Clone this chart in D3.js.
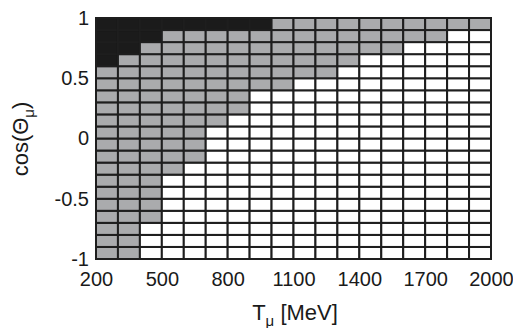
<!DOCTYPE html>
<html><head><meta charset="utf-8">
<script src="https://cdn.jsdelivr.net/npm/d3@7"></script>
<style>body{margin:0;background:#fff}svg{display:block}text{font-family:"Liberation Sans",Arial,sans-serif;fill:#1a1a1a}</style>
</head><body><svg id="c" width="513" height="328"></svg>
<script>
// Lower edges of energy bins (MeV), width 100
const energyBins = [200,300,400,500,600,700,800,900,1000,1100,1200,1300,1400,1500,1600,1700,1800,1900];
// Lower edges of cos bins, width 0.1
const cosBins = [-1,-0.9,-0.8,-0.7,-0.6,-0.5,-0.4,-0.3,-0.2,-0.1,0,0.1,0.2,0.3,0.4,0.5,0.6,0.7,0.8,0.9];
// For each energy bin: lowest cos edge of the grey region and of the black region
const greyLower  = [-1,-1,-0.7,-0.3,-0.2,0.1,0.2,0.4,0.4,0.5,0.5,0.6,0.7,0.7,0.8,0.8,0.9,0.9];
const blackLower = [0.6,0.7,0.8,0.9,0.9,0.9,0.9,0.9,1,1,1,1,1,1,1,1,1,1];
const xTicks = [200,500,800,1100,1400,1700,2000];
const yTicks = [1,0.5,0,-0.5,-1];

const svg = d3.select("#c");
const x = d3.scaleLinear().domain([200,2000]).range([96,491]);
const y = d3.scaleLinear().domain([-1,1]).range([259,18]);

const cells = [];
energyBins.forEach((e,i)=>{
  cosBins.forEach(c=>{
    let fill = "#ffffff";
    if (c >= blackLower[i]-1e-9) fill = "#1b1b1b";
    else if (c >= greyLower[i]-1e-9) fill = "#aaabad";
    cells.push({e, c, fill});
  });
});

svg.append("g").selectAll("rect").data(cells).join("rect")
  .attr("x", d=>x(d.e)).attr("y", d=>y(d.c+0.1))
  .attr("width", d=>x(d.e+100)-x(d.e)).attr("height", d=>y(d.c)-y(d.c+0.1))
  .attr("fill", d=>d.fill)
  .attr("stroke", "#1e1e1e").attr("stroke-width", 2);

svg.append("rect").attr("x",96).attr("y",18).attr("width",395).attr("height",241)
  .attr("fill","none").attr("stroke","#1e1e1e").attr("stroke-width",2);

// Axes
const xAxis = svg.append("g").attr("transform","translate(0,259)")
  .call(d3.axisBottom(x).tickValues(xTicks).tickSize(0).tickPadding(13).tickFormat(d3.format("d")));
xAxis.select(".domain").remove();
xAxis.selectAll("text").attr("font-size",20).attr("font-family","Liberation Sans, Arial, sans-serif").attr("fill","#1a1a1a");

const yAxis = svg.append("g").attr("transform","translate(96,0)")
  .call(d3.axisLeft(y).tickValues(yTicks).tickSize(0).tickPadding(7).tickFormat(d=>String(d)));
yAxis.select(".domain").remove();
yAxis.selectAll("text").attr("font-size",20).attr("font-family","Liberation Sans, Arial, sans-serif").attr("fill","#1a1a1a");

// Axis titles
const xt = svg.append("text").attr("x",295).attr("y",320).attr("text-anchor","middle").attr("font-size",22);
xt.append("tspan").text("T");
xt.append("tspan").attr("dy",6).attr("font-size",15).text("μ");
xt.append("tspan").attr("dy",-6).text(" [MeV]");

const yt = svg.append("text").attr("transform","translate(28,139) rotate(-90)").attr("text-anchor","middle").attr("font-size",22);
yt.append("tspan").text("cos(Θ");
yt.append("tspan").attr("dy",6).attr("font-size",15).text("μ");
yt.append("tspan").attr("dy",-6).text(")");
</script></body></html>
